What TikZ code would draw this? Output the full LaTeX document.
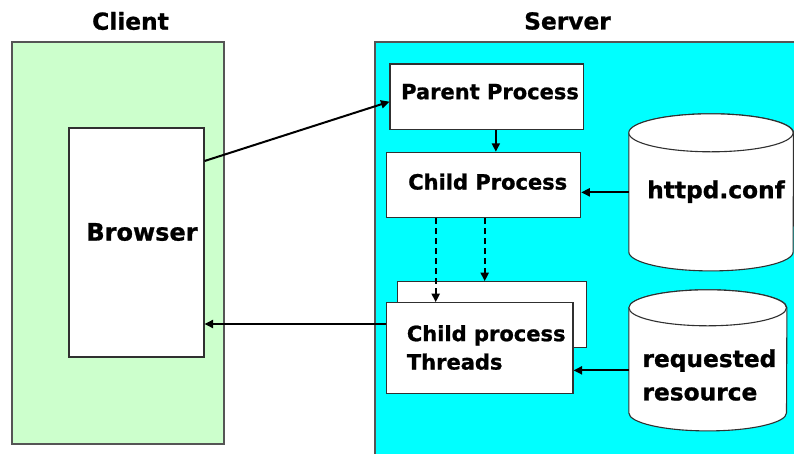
\documentclass[tikz,border=0pt]{standalone}
\usepackage{fontspec}
\setmainfont{DejaVu Sans}[BoldFeatures={FakeBold=1}]
\usetikzlibrary{arrows.meta,calc}
\definecolor{clientgreen}{HTML}{CCFFCC}
\definecolor{servercyan}{HTML}{00FFFF}
\definecolor{zoneline}{HTML}{555555}
\definecolor{boxline}{HTML}{303030}
% outline of an upright cylinder around a node: #1 node, #2 x radius, #3 y radius of the ends
\newcommand\drawcylinder[3]{%
  \draw[cylline] ([yshift=-#3]#1.north west) -- ([yshift=#3]#1.south west)
    arc[start angle=180,end angle=360,x radius=#2,y radius=#3]
    -- ([yshift=-#3]#1.north east)
    arc[start angle=0,end angle=180,x radius=#2,y radius=#3] -- cycle;
  \draw[cylline] ([yshift=-#3]#1.north west)
    arc[start angle=180,end angle=-180,x radius=#2,y radius=#3];
}
\begin{document}
\begin{tikzpicture}[x=1pt,y=1pt,
  zone/.style={rectangle,draw=zoneline,line width=1.1pt,inner sep=0},
  box/.style={rectangle,draw=boxline,fill=white,line width=1.1pt,inner sep=0},
  cyl/.style={rectangle,inner sep=0},
  cylline/.style={draw=boxline,fill=white,line width=1.1pt},
  title/.style={font=\fontsize{23.3}{28}\selectfont\bfseries,inner sep=0},
  lbl/.style={font=\fontsize{21}{28.4}\selectfont\bfseries,inner sep=0,align=left},
  biglbl/.style={font=\fontsize{23.3}{33.4}\selectfont\bfseries,inner sep=0,align=left},
  arr/.style={line width=2pt,-{Triangle[length=8.5pt,width=8pt]}},
  dasharr/.style={arr,dash pattern=on 6pt off 4pt}]
\useasboundingbox (0,0) rectangle (794,-453);
\clip (0,0) rectangle (794,-453);
\fill[white] (0,0) rectangle (794,-453);

% the two zones
\node[zone,fill=clientgreen,minimum width=212,minimum height=402] (client) at (118,-243) {};
\node[zone,fill=servercyan,minimum width=435,minimum height=428] (server) at (592.5,-256) {};
\node[title] (clienttitle) at (130.5,-21) {Client};
\node[title] (servertitle) at (567.5,-21) {Server};

% client side
\node[box,minimum width=135,minimum height=229] (browser) at (136.5,-242.5) {};
\node[title,font=\fontsize{24}{28}\selectfont\bfseries] (browserlbl) at (142,-232) {Browser};

% server processes
\node[box,minimum width=193.7,minimum height=65.3] (parent) at (486.85,-96.65) {};
\node[lbl] (parentlbl) at (490,-91.7) {Parent Process};
\node[box,minimum width=194,minimum height=65.4] (child) at (483.7,-185) {};
\node[lbl] (childlbl) at (487.7,-181.7) {Child Process};
\node[box,minimum width=189.4,minimum height=65.6] (back) at (492,-314.5) {};
\node[box,minimum width=186.3,minimum height=91] (front) at (479.85,-348.2) {};
\node[lbl,anchor=west] (threadslbl) at (406.7,-347.5) {Child process\\Threads};

% data stores
\node[cyl,minimum width=164.3,minimum height=156.7] (conf) at (711.15,-192.35) {};
\drawcylinder{conf}{82.15}{19}
\node[biglbl] (conflbl) at (716,-191.7) {httpd.conf};
\node[cyl,minimum width=157.7,minimum height=140.7] (res) at (707.85,-360.35) {};
\drawcylinder{res}{78.85}{18}
\node[biglbl,anchor=west] (reslbl) at (642.3,-375) {requested\\resource};

% connectors
\draw[arr] ([yshift=81.5]browser.east) -- ([yshift=-5]parent.west);
\draw[arr] ([xshift=9]parent.south) -- ([xshift=9]parent.south |- child.north);
\draw[arr] (conf.west) -- (child.east |- conf.west);
\coordinate (dashA) at (435.7,0);
\coordinate (dashB) at (484.7,0);
\draw[dasharr] (child.south -| dashA) -- (front.north -| dashA);
\draw[dasharr] (child.south -| dashB) -- (back.north -| dashB);
\coordinate (resin) at ([yshift=-10]res.west);
\draw[arr] (resin) -- (front.east |- resin);
\coordinate (reply) at ([yshift=24.2]front.west);
\draw[arr] (reply) -- (browser.east |- reply);
\end{tikzpicture}
\end{document}
